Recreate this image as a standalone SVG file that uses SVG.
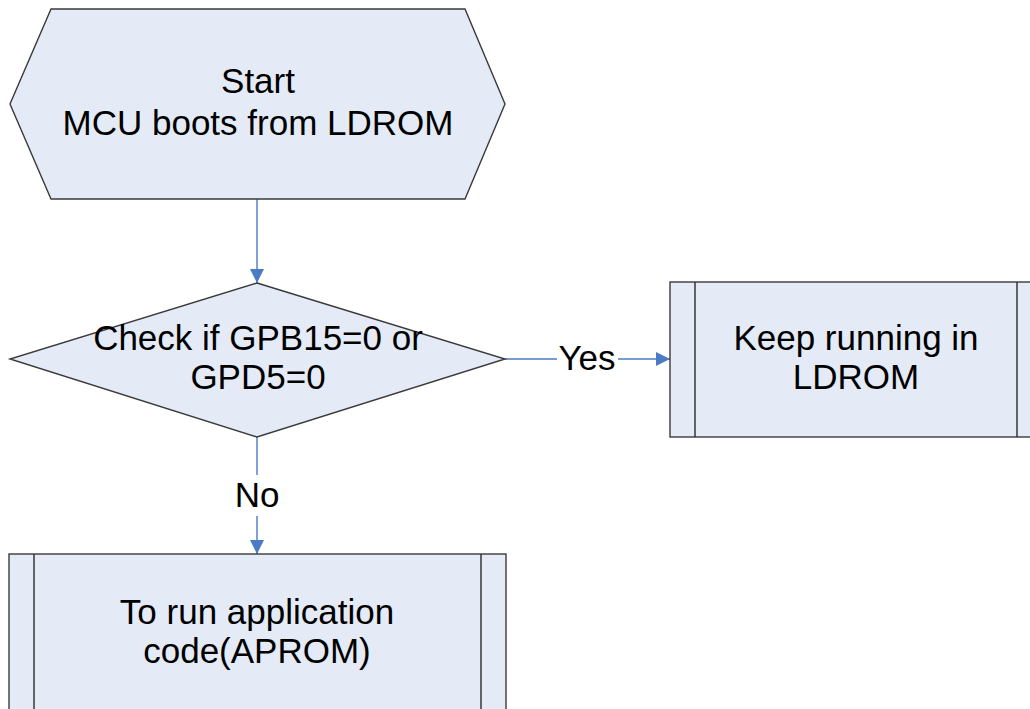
<svg xmlns="http://www.w3.org/2000/svg" width="1030" height="709" viewBox="0 0 1030 709">
  <style>
    .shape { fill: #e4ebf6; stroke: #3a3a3a; stroke-width: 1.4; }
    .bar { fill: none; stroke: #2a2a2a; stroke-width: 1.4; }
    .label { font-family: "Liberation Sans", Arial, sans-serif; font-size: 35px; fill: #000; text-anchor: middle; }
    .conn { fill: none; stroke: #4a7bc4; stroke-width: 1.4; }
  </style>
  <defs>
    <marker id="arrow" viewBox="0 0 14 14" refX="14" refY="7" markerWidth="14" markerHeight="14" markerUnits="userSpaceOnUse" orient="auto">
      <path d="M0,0 L14,7 L0,14 Z" fill="#4a7bc4"/>
    </marker>
  </defs>
  <rect width="1030" height="709" fill="#ffffff"/>

  <g id="connectors">
    <line class="conn" x1="257" y1="199" x2="257" y2="283" marker-end="url(#arrow)"/>
    <line class="conn" x1="505" y1="359" x2="557" y2="359"/>
    <line class="conn" x1="618" y1="359" x2="670" y2="359" marker-end="url(#arrow)"/>
    <text class="label" x="587" y="370">Yes</text>
    <line class="conn" x1="257" y1="437" x2="257" y2="475"/>
    <line class="conn" x1="257" y1="516" x2="257" y2="554" marker-end="url(#arrow)"/>
    <text class="label" x="257" y="507">No</text>
  </g>

  <g id="start">
    <polygon class="shape" points="51,9 465,9 505,104 465,199 51,199 10,104"/>
    <text class="label" x="258" y="93">Start</text>
    <text class="label" x="258" y="135">MCU boots from LDROM</text>
  </g>

  <g id="check">
    <polygon class="shape" points="257,283 505,359 257,437 10,359"/>
    <text class="label" x="258" y="350">Check if GPB15=0 or</text>
    <text class="label" x="258" y="389">GPD5=0</text>
  </g>

  <g id="ldrom">
    <rect class="shape" x="670" y="282" width="372" height="155"/>
    <line class="bar" x1="695" y1="282" x2="695" y2="437"/>
    <line class="bar" x1="1017" y1="282" x2="1017" y2="437"/>
    <text class="label" x="856" y="350">Keep running in</text>
    <text class="label" x="856" y="389">LDROM</text>
  </g>

  <g id="aprom">
    <rect class="shape" x="9" y="554" width="497" height="170"/>
    <line class="bar" x1="34" y1="554" x2="34" y2="724"/>
    <line class="bar" x1="481" y1="554" x2="481" y2="724"/>
    <text class="label" x="257" y="624">To run application</text>
    <text class="label" x="257" y="663">code(APROM)</text>
  </g>
</svg>
